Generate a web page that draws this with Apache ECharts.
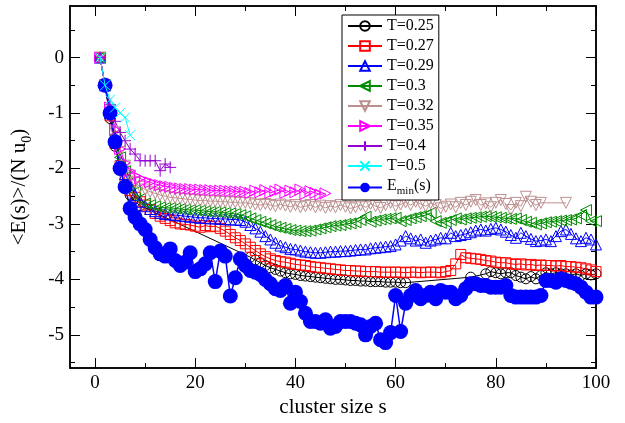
<!DOCTYPE html>
<html>
<head>
<meta charset="utf-8">
<script src="https://cdn.jsdelivr.net/npm/echarts@6/dist/echarts.min.js"></script>
<style>
html,body{margin:0;padding:0;background:#fff;}
#m1{width:625px;height:423px;}
</style>
</head>
<body>
<div id="m1"></div>
<script>
function range(a,b){var r=[];for(var i=a;i<=b;i++)r.push(i);return r;}

// tick values
var xTicks=[0,20,40,60,80,100];
var xMinor=[10,30,50,70,90];
var yTicks=[-5,-4,-3,-2,-1,0];
var yMinor=[-5.5,-4.5,-3.5,-2.5,-1.5,-0.5,0.5];

// cluster sizes s for each set
var sT025=range(1,9).concat(range(31,62),[75],range(78,100));
var sT027=range(1,100);
var sT029=range(1,100);
var sT030=range(1,100);
var sT032=range(1,89).concat([94]);
var sT035=range(1,46);
var sT040=range(1,15);
var sT050=range(1,7);
var sEmin=range(2,100);

// <E(s)>/(N u0)
var eT025=[0,-0.50,-1.10,-1.60,-2.00,-2.30,-2.48,-2.60,-2.67,
-3.60,-3.65,-3.70,-3.75,-3.79,-3.82,-3.85,-3.88,-3.90,-3.91,
-3.93,-3.94,-3.95,-3.96,-3.97,-3.98,-3.99,-4.00,-4.00,-4.01,
-4.02,-4.02,-4.03,-4.03,-4.04,-4.04,-4.04,-4.05,-4.05,-4.05,
-4.06,-4.06,
-3.96,
-3.90,-3.86,-3.88,-3.90,-3.88,-3.88,-3.93,-3.96,-3.99,-3.95,
-3.99,-3.93,-3.88,-3.90,-3.88,-3.90,-3.90,-3.92,-3.90,-3.93,
-3.90,-3.92,-3.90];
var eT027=[0,-0.50,-1.05,-1.55,-1.95,-2.20,-2.40,-2.52,-2.60,-2.66,
-2.74,-2.81,-2.86,-2.90,-2.94,-2.98,-3.00,-3.01,-3.02,-3.04,
-3.06,-3.03,-3.05,-3.04,-3.08,-3.13,-3.19,-3.25,-3.30,-3.36,
-3.42,-3.48,-3.54,-3.59,-3.63,-3.66,-3.68,-3.69,-3.71,-3.73,
-3.74,-3.75,-3.77,-3.78,-3.79,-3.80,-3.81,-3.82,-3.83,-3.84,
-3.84,-3.85,-3.85,-3.86,-3.86,-3.86,-3.87,-3.87,-3.87,-3.87,
-3.87,-3.88,-3.87,-3.87,-3.88,-3.87,-3.87,-3.87,-3.88,-3.86,
-3.84,-3.72,-3.55,-3.61,-3.62,-3.63,-3.64,-3.66,-3.67,-3.69,
-3.70,-3.70,-3.72,-3.73,-3.72,-3.74,-3.73,-3.75,-3.74,-3.75,
-3.75,-3.76,-3.75,-3.77,-3.77,-3.78,-3.79,-3.81,-3.83,-3.86];
var eT029=[0,-0.50,-1.00,-1.45,-1.85,-2.10,-2.30,-2.48,-2.60,-2.68,
-2.73,-2.77,-2.80,-2.82,-2.83,-2.84,-2.85,-2.86,-2.87,-2.88,
-2.89,-2.89,-2.90,-2.90,-2.91,-2.91,-2.92,-2.92,-2.93,-2.96,
-3.02,-3.08,-3.14,-3.22,-3.28,-3.34,-3.39,-3.42,-3.45,-3.46,
-3.48,-3.50,-3.51,-3.52,-3.52,-3.51,-3.50,-3.50,-3.49,-3.49,
-3.48,-3.47,-3.46,-3.46,-3.44,-3.43,-3.42,-3.41,-3.40,-3.37,
-3.30,-3.22,-3.26,-3.30,-3.28,-3.34,-3.30,-3.28,-3.25,-3.26,
-3.16,-3.22,-3.20,-3.18,-3.15,-3.12,-3.10,-3.12,-3.09,-3.07,
-3.10,-3.14,-3.20,-3.25,-3.16,-3.22,-3.27,-3.31,-3.30,-3.28,
-3.31,-3.22,-3.13,-3.10,-3.18,-3.26,-3.31,-3.25,-3.28,-3.37];
var eT030=[0,-0.50,-1.00,-1.40,-1.80,-2.05,-2.25,-2.42,-2.55,-2.63,
-2.66,-2.68,-2.70,-2.71,-2.71,-2.72,-2.73,-2.74,-2.75,-2.75,
-2.76,-2.77,-2.78,-2.78,-2.79,-2.80,-2.81,-2.82,-2.84,-2.86,
-2.90,-2.93,-2.96,-2.99,-3.02,-3.05,-3.07,-3.09,-3.11,-3.12,
-3.13,-3.13,-3.12,-3.10,-3.08,-3.06,-3.04,-3.03,-3.02,-3.00,
-2.99,-2.97,-2.93,-2.87,-2.96,-2.94,-2.92,-2.91,-2.90,-2.89,
-2.95,-2.93,-2.90,-2.88,-2.86,-2.84,-2.80,-2.95,-2.98,-2.96,
-2.93,-2.90,-2.92,-2.90,-2.89,-2.88,-2.87,-2.86,-2.87,-2.88,
-2.89,-2.90,-2.91,-2.90,-2.93,-2.96,-2.98,-3.01,-2.99,-2.97,
-2.96,-2.95,-2.94,-2.93,-2.92,-2.90,-2.84,-2.75,-2.95,-2.95];
var eT032=[0,-0.50,-0.95,-1.35,-1.70,-1.95,-2.13,-2.25,-2.33,-2.38,
-2.42,-2.45,-2.48,-2.50,-2.52,-2.53,-2.54,-2.55,-2.56,-2.57,
-2.58,-2.58,-2.59,-2.59,-2.60,-2.60,-2.61,-2.61,-2.62,-2.62,
-2.63,-2.65,-2.66,-2.64,-2.66,-2.68,-2.65,-2.67,-2.69,-2.66,
-2.70,-2.68,-2.66,-2.70,-2.67,-2.71,-2.68,-2.70,-2.66,-2.69,
-2.72,-2.70,-2.66,-2.70,-2.64,-2.68,-2.71,-2.66,-2.62,-2.68,
-2.65,-2.61,-2.66,-2.60,-2.64,-2.68,-2.63,-2.66,-2.72,-2.69,
-2.65,-2.70,-2.62,-2.66,-2.60,-2.57,-2.66,-2.63,-2.70,-2.62,
-2.57,-2.64,-2.75,-2.62,-2.68,-2.51,-2.60,-2.66,-2.62,
-2.62];
var eT035=[0,-0.50,-0.90,-1.30,-1.65,-1.90,-2.05,-2.13,-2.18,-2.22,
-2.25,-2.28,-2.30,-2.32,-2.33,-2.35,-2.36,-2.37,-2.37,-2.38,
-2.38,-2.39,-2.39,-2.40,-2.40,-2.40,-2.41,-2.41,-2.42,-2.42,
-2.44,-2.40,-2.43,-2.39,-2.44,-2.41,-2.38,-2.44,-2.40,-2.43,
-2.38,-2.46,-2.41,-2.44,-2.47,-2.45];
var eT040=[0,-0.50,-0.85,-1.15,-1.35,-1.50,-1.65,-1.74,-1.86,-1.86,-1.86,-1.86,-2.04,-1.92,-1.98];
var eT050=[0,-0.50,-0.76,-0.90,-1.00,-1.08,-1.40];
var eEmin=[-0.50,-1.00,-1.52,-2.00,-2.33,-2.72,-2.88,-3.00,-3.10,
-3.28,-3.43,-3.54,-3.58,-3.45,-3.66,-3.75,-3.69,-3.52,-3.86,
-3.81,-3.72,-3.52,-4.04,-3.49,-3.58,-4.30,-3.97,-3.63,-3.75,
-3.84,-3.87,-3.91,-4.00,-4.08,-4.17,-4.20,-4.11,-4.43,-4.23,
-4.40,-4.61,-4.76,-4.76,-4.79,-4.73,-4.88,-4.85,-4.76,-4.76,
-4.76,-4.79,-4.82,-5.00,-4.85,-4.79,-5.09,-5.14,-4.96,-4.29,
-4.94,-4.43,-4.29,-4.20,-4.35,-4.29,-4.23,-4.35,-4.20,-4.23,
-4.23,-4.35,-4.29,-4.17,-4.08,-4.08,-4.11,-4.11,-4.14,-4.14,
-4.14,-4.11,-4.29,-4.32,-4.32,-4.32,-4.32,-4.32,-4.29,-4.02,
-4.02,-4.05,-3.99,-4.02,-4.05,-4.08,-4.14,-4.23,-4.32,-4.32];

var FONT='"Liberation Serif","Times New Roman",serif';
var PLUS='path://M0,5L10,5M5,0L5,10';
var CROSS='path://M0,0L10,10M10,0L0,10';

function pairs(xs,ys){var d=[];for(var i=0;i<xs.length;i++)d.push([xs[i],ys[i]]);return d;}

function set(name,xs,ys,color,symbol,size,rot,filled,lw,z){
  return {
    name:name,type:'line',data:pairs(xs,ys),z:z||2,
    symbol:symbol,symbolSize:size,symbolRotate:rot||0,showAllSymbol:true,
    lineStyle:{color:color,width:lw||1},
    itemStyle:{color:filled?color:'transparent',borderColor:color,borderWidth:filled?0:1},
    emphasis:{disabled:true},
    xAxisIndex:0,yAxisIndex:0
  };
}

var series=[
  set('T=0.25',sT025,eT025,'#000000','circle',10,0),
  set('T=0.27',sT027,eT027,'#ff0000','rect',10,0),
  set('T=0.29',sT029,eT029,'#0000ff','triangle',11,0),
  set('T=0.3',sT030,eT030,'#008b00','triangle',11,90),
  set('T=0.32',sT032,eT032,'#bc8f8f','triangle',11,180),
  set('T=0.35',sT035,eT035,'#ff00ff','triangle',11,-90),
  set('T=0.4',sT040,eT040,'#9400d3',PLUS,12,0),
  set('T=0.5',sT050,eT050,'#00ffff',CROSS,10,0,false,1,3),
  set('Emin',sEmin,eEmin,'#0000ff','circle',15,0,true,1.5)
];

function xa(pos,vals,len,labels,extra){
  var a={type:'value',position:pos,min:-5,max:100,gridIndex:0,
    axisLine:{show:true,onZero:false,lineStyle:{color:'#000',width:1.5}},
    axisTick:{show:true,inside:true,length:len,customValues:vals,lineStyle:{color:'#000',width:1}},
    axisLabel:{show:labels,customValues:vals,color:'#000',fontFamily:FONT,fontSize:19,margin:5},
    splitLine:{show:false}};
  for(var k in extra)a[k]=extra[k];
  return a;
}
function ya(pos,vals,len,labels,extra){
  var a={type:'value',position:pos,min:-5.6,max:0.93,gridIndex:0,
    axisLine:{show:true,onZero:false,lineStyle:{color:'#000',width:1.5}},
    axisTick:{show:true,inside:true,length:len,customValues:vals,lineStyle:{color:'#000',width:1}},
    axisLabel:{show:labels,customValues:vals,color:'#000',fontFamily:FONT,fontSize:19,margin:6},
    splitLine:{show:false}};
  for(var k in extra)a[k]=extra[k];
  return a;
}

var myChart=echarts.init(document.getElementById('m1'),null,{renderer:'canvas'});
var option={
  animation:false,
  backgroundColor:'#fff',
  grid:{left:70,right:29,top:6,bottom:50,containLabel:false},
  legend:{
    orient:'vertical',left:342,top:15,
    padding:[3,5,3,5],itemGap:4,itemWidth:34,itemHeight:12,
    borderColor:'#000',borderWidth:1,backgroundColor:'#fff',
    data:series.map(function(s){return s.name;}),
    formatter:function(n){
      if(n==='Emin')return '{a|E}{s|min}{a|(s)}';
      return '{a|'+n+'}';
    },
    textStyle:{color:'#000',fontFamily:FONT,fontSize:16,
      rich:{a:{fontFamily:FONT,fontSize:16,color:'#000',verticalAlign:'top',lineHeight:16},
            s:{fontFamily:FONT,fontSize:11,color:'#000',verticalAlign:'top',padding:[8,0,0,0]}}}
  },
  xAxis:[
    xa('bottom',xTicks,10,true,{name:'cluster size s',nameLocation:'middle',nameGap:23,
      nameTextStyle:{color:'#000',fontFamily:FONT,fontSize:21}}),
    xa('bottom',xMinor,5,false),
    xa('top',xTicks,10,false),
    xa('top',xMinor,5,false)
  ],
  yAxis:[
    ya('left',yTicks,10,true,{name:'{a|<E(s)>/(N u}{s|0}{a|)}',nameLocation:'middle',nameGap:36,nameRotate:90,
      nameTextStyle:{color:'#000',fontFamily:FONT,fontSize:21,
        rich:{a:{fontFamily:FONT,fontSize:21,color:'#000',verticalAlign:'top',lineHeight:22},
              s:{fontFamily:FONT,fontSize:14,color:'#000',verticalAlign:'top',padding:[11,0,0,0]}}}}),
    ya('left',yMinor,5,false),
    ya('right',yTicks,10,false),
    ya('right',yMinor,5,false)
  ],
  series:series
};
myChart.setOption(option);
</script>
</body>
</html>
